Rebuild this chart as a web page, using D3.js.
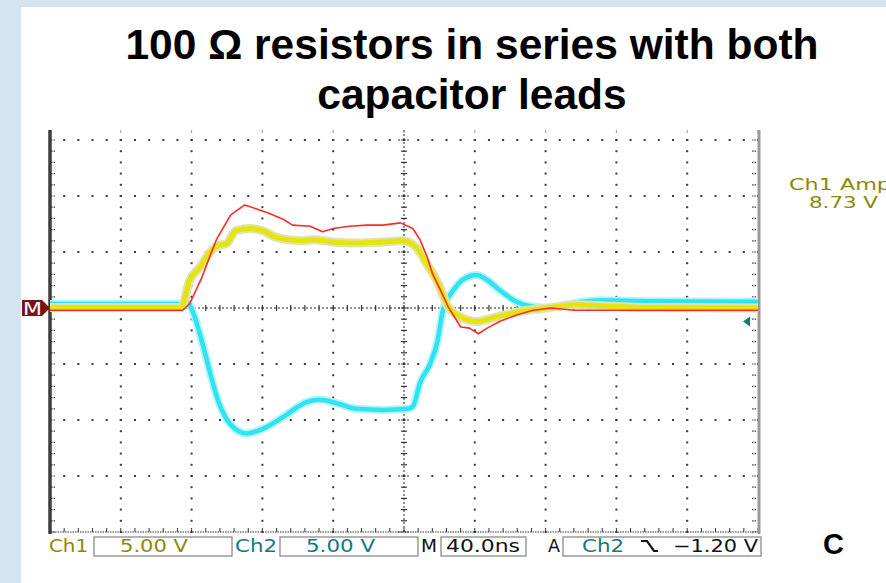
<!DOCTYPE html>
<html><head><meta charset="utf-8">
<script src="https://cdn.jsdelivr.net/npm/d3@7"></script>
<style>html,body{margin:0;padding:0;background:#d4e4f2;}svg{display:block;}</style>
</head><body>
<script>
// ---- data (time in ns, centre = 0; volts relative to screen centre) ----
const titleLines = ["100 Ω resistors in series with both", "capacitor leads"];
const ch1Time  = [-200,-126,-121,-115,-110,-106,-100,-95,-87,-80,-72,-59,-51,-40,-27,-12,-1,7,13,19,25,32,41,50,60,70,81,97,111,139,200];
const ch1Volts = [0.05,0.05,2.5,3.7,4.9,5.5,5.8,6.9,7.1,6.9,6.3,6.0,6.1,5.9,5.8,5.9,6.0,5.4,3.9,2.3,0.1,-0.8,-1.2,-0.9,-0.5,-0.2,0.0,0.3,0.2,0.05,0.0];
const redTime  = [-200,-125,-121,-114,-109,-106,-98,-90,-87,-77,-68,-63,-53,-46,-40,-31,-21,-12,-2,5,9,13,16,20,25,32,37,42,47,54,64,73,83,96,200];
const redVolts = [-0.2,-0.2,0.4,2.8,4.9,6.1,8.3,9.2,9.05,8.5,7.9,7.4,7.3,6.8,7.1,7.3,7.4,7.4,7.6,7.1,6.1,4.6,3.1,1.8,0.1,-1.7,-1.8,-2.3,-1.8,-1.2,-0.6,-0.2,0.0,-0.2,-0.2];
const ch2Time  = [-200,-125,-123,-119,-114,-108,-106,-98,-89,-80,-68,-55,-48,-38,-27,-12,2,5,9,15,19,22,28,33,41,47,54,62,70,81,98,111,139,200];
const ch2Volts = [0.35,0.35,0.6,-0.45,-3.1,-6.7,-7.8,-10.4,-11.2,-10.8,-9.7,-8.4,-8.2,-8.5,-9.0,-9.1,-9.0,-8.8,-6.7,-4.9,-2.9,-0.2,1.6,2.5,2.95,2.5,1.6,0.7,0.2,0.0,0.5,0.7,0.6,0.55];
const timeDomain = [-200, 200];   // 40 ns/div, 10 divisions
const voltDomain = [-20, 20];     // 5 V/div, 8 divisions
const ampLabel = ["Ch1 Amp", "8.73 V"];
const statusCh1 = ["Ch1", "5.00 V"];
const statusCh2 = ["Ch2", "5.00 V"];
const statusTime = ["M", "40.0ns"];
const statusTrig = ["A", "Ch2", "−1.20 V"];
const panelLetter = "C";

const W = 886, H = 583;
const svg = d3.select("body").append("svg").attr("width", W).attr("height", H);
svg.append("rect").attr("width", W).attr("height", H).attr("fill", "#d4e4f2");
svg.append("rect").attr("x", 21).attr("y", 7).attr("width", W - 21).attr("height", H - 7).attr("fill", "#ffffff");

// title
svg.selectAll("text.title").data(titleLines).join("text").attr("class", "title")
  .attr("x", 472).attr("y", (d, i) => 59 + i * 50)
  .attr("text-anchor", "middle")
  .attr("font-family", "'Liberation Sans', Arial, sans-serif").attr("font-weight", "bold")
  .attr("font-size", 42.5).attr("fill", "#000").text(d => d);

const x = d3.scaleLinear().domain(timeDomain).range([50, 758]);
const y = d3.scaleLinear().domain(voltDomain).range([532, 84]);
const topVis = 130;

const defs = svg.append("defs");
defs.append("clipPath").attr("id", "scr").append("rect")
  .attr("x", 50).attr("y", topVis).attr("width", 708).attr("height", 532 - topVis + 1);

const g = svg.append("g").attr("clip-path", "url(#scr)");
const dotCol = "#3a3a3a";

const majorT = d3.range(timeDomain[0], timeDomain[1] + 1, 40);
const majorV = d3.range(voltDomain[0], voltDomain[1] + 1, 5);
const minorT = d3.range(timeDomain[0], timeDomain[1] + 0.1, 8);
const minorV = d3.range(voltDomain[0], voltDomain[1] + 0.1, 1);

// vertical grid dots
majorT.filter(t => t !== 0 && t > timeDomain[0] && t < timeDomain[1]).forEach(t => {
  g.selectAll(null).data(minorV).join("rect")
    .attr("x", x(t) - 1).attr("y", v => y(v) - 1).attr("width", 2).attr("height", 2).attr("fill", dotCol);
});
// horizontal grid dots
majorV.filter(v => v !== 0 && v > voltDomain[0] && v < voltDomain[1]).forEach(v => {
  g.selectAll(null).data(minorT).join("rect")
    .attr("x", t => x(t) - 1).attr("y", y(v) - 1).attr("width", 2).attr("height", 2).attr("fill", dotCol);
});
// centre axes
g.append("line").attr("x1", 50).attr("x2", 758).attr("y1", y(0)).attr("y2", y(0))
  .attr("stroke", "#222").attr("stroke-width", 1).attr("stroke-dasharray", "2,2");
g.append("line").attr("x1", x(0)).attr("x2", x(0)).attr("y1", topVis).attr("y2", 532)
  .attr("stroke", "#222").attr("stroke-width", 1).attr("stroke-dasharray", "2,2");
g.selectAll(null).data(minorT).join("line")
  .attr("x1", t => x(t)).attr("x2", t => x(t)).attr("y1", y(0) - 3).attr("y2", y(0) + 3)
  .attr("stroke", "#333").attr("stroke-width", 1.2);
g.selectAll(null).data(minorV.filter(v => v % 5 !== 0)).join("line")
  .attr("x1", x(0) - 3).attr("x2", x(0) + 3).attr("y1", v => y(v)).attr("y2", v => y(v))
  .attr("stroke", "#333").attr("stroke-width", 1.2);
g.selectAll(null).data(majorV).join("line")
  .attr("x1", x(0) - 6).attr("x2", x(0) + 6).attr("y1", v => y(v)).attr("y2", v => y(v))
  .attr("stroke", "#333").attr("stroke-width", 1).attr("stroke-dasharray", "2,1");
// left border ticks
g.selectAll(null).data(minorV).join("line")
  .attr("x1", 51).attr("x2", 56).attr("y1", v => y(v)).attr("y2", v => y(v))
  .attr("stroke", "#444").attr("stroke-width", 1.2).attr("stroke-dasharray", "1.5,1");
// right border ticks
g.selectAll(null).data(minorV).join("line")
  .attr("x1", 752).attr("x2", 757).attr("y1", v => y(v)).attr("y2", v => y(v))
  .attr("stroke", "#444").attr("stroke-width", 1.2).attr("stroke-dasharray", "1.5,1");
// bottom border
g.append("line").attr("x1", 50).attr("x2", 758).attr("y1", 532).attr("y2", 532)
  .attr("stroke", "#333").attr("stroke-width", 1.2).attr("stroke-dasharray", "1.5,1");
g.selectAll(null).data(minorT).join("line")
  .attr("x1", t => x(t)).attr("x2", t => x(t)).attr("y1", 528).attr("y2", 532)
  .attr("stroke", "#333").attr("stroke-width", 1);
g.selectAll(null).data(majorT).join("line")
  .attr("x1", t => x(t)).attr("x2", t => x(t)).attr("y1", topVis).attr("y2", topVis + 3)
  .attr("stroke", "#999").attr("stroke-width", 1);

// borders
svg.append("line").attr("x1", 50).attr("x2", 50).attr("y1", topVis).attr("y2", 534)
  .attr("stroke", "#3c3c3c").attr("stroke-width", 3.5);
svg.append("line").attr("x1", 759).attr("x2", 759).attr("y1", topVis).attr("y2", 534)
  .attr("stroke", "#9a9a9a").attr("stroke-width", 3);

// traces
const line = d3.line().x(d => x(d[0])).y(d => y(d[1])).curve(d3.curveMonotoneX);
const zipS = (ts, vs) => ts.map((t, i) => [t, vs[i]]);
const tr = svg.append("g").attr("clip-path", "url(#scr)");
tr.append("path").attr("d", line(zipS(ch2Time, ch2Volts))).attr("fill", "none")
  .attr("stroke", "#b6f3f7").attr("stroke-width", 8).attr("stroke-linejoin", "round");
tr.append("path").attr("d", line(zipS(ch2Time, ch2Volts))).attr("fill", "none")
  .attr("stroke", "#2ee4f0").attr("stroke-width", 4.5).attr("stroke-linejoin", "round");
tr.append("path").attr("d", line(zipS(ch1Time, ch1Volts))).attr("fill", "none")
  .attr("stroke", "#e2e2b0").attr("stroke-width", 9).attr("stroke-linejoin", "round");
tr.append("path").attr("d", line(zipS(ch1Time, ch1Volts))).attr("fill", "none")
  .attr("stroke", "#e4e40e").attr("stroke-width", 5).attr("stroke-linejoin", "round");
tr.append("path").attr("d", d3.line().x(d => x(d[0])).y(d => y(d[1]))(zipS(redTime, redVolts))).attr("fill", "none")
  .attr("stroke", "#ff2a2a").attr("stroke-width", 1.6).attr("stroke-linejoin", "round");

// M marker
const my = y(0);
svg.append("path").attr("d", `M22,${my - 8}H42L50,${my}L42,${my + 8}H22Z`).attr("fill", "#7a1414");
svg.append("text").attr("x", 23).attr("y", my + 7).attr("textLength", 19).attr("lengthAdjust", "spacingAndGlyphs")
  .attr("font-family", "'DejaVu Sans', sans-serif").attr("font-size", 18).attr("fill", "#fff").text("M");
// trigger level arrow (right)
const ty = y(-1.2);
svg.append("path").attr("d", `M743,${ty}L750,${ty - 5}V${ty + 5}Z`).attr("fill", "#147a7a");

// Ch1 Amp
const olive = "#8a8a06", teal = "#0f7b7b", blk = "#111";
const mono = "'DejaVu Sans', Verdana, sans-serif";
svg.append("text").attr("x", 789).attr("y", 190).attr("font-family", mono).attr("font-size", 16.5)
  .attr("textLength", 102).attr("lengthAdjust", "spacingAndGlyphs").attr("fill", olive).text(ampLabel[0]);
svg.append("text").attr("x", 809).attr("y", 208).attr("font-family", mono).attr("font-size", 16.5)
  .attr("textLength", 69).attr("lengthAdjust", "spacingAndGlyphs").attr("fill", olive).text(ampLabel[1]);

// status bar
const sy = 552;
const boxes = [[94, 232], [280, 418], [441, 526], [563, 761]];
svg.selectAll(null).data(boxes).join("rect")
  .attr("x", d => d[0]).attr("y", 537).attr("width", d => d[1] - d[0]).attr("height", 19)
  .attr("fill", "none").attr("stroke", "#8c8c8c").attr("stroke-width", 1.3);
function st(txt, x0, x1, col) {
  svg.append("text").attr("x", x0).attr("y", sy).attr("font-family", mono).attr("font-size", 17.5)
    .attr("textLength", x1 - x0).attr("lengthAdjust", "spacingAndGlyphs").attr("fill", col).text(txt);
}
st(statusCh1[0], 49, 88, olive);
st(statusCh1[1], 120, 188, olive);
st(statusCh2[0], 235, 277, teal);
st(statusCh2[1], 306, 375, teal);
st(statusTime[0], 421, 437, blk);
st(statusTime[1], 446, 520, blk);
st(statusTrig[0], 548, 560, blk);
st(statusTrig[1], 582, 624, teal);
st(statusTrig[2], 673, 758, blk);
// falling-edge symbol
svg.append("path").attr("d", "M641,541H647L654,551H658").attr("fill", "none")
  .attr("stroke", blk).attr("stroke-width", 2.2);

svg.append("text").attr("x", 823).attr("y", 554).attr("font-family", "'Liberation Sans', Arial, sans-serif")
  .attr("font-weight", "bold").attr("font-size", 29).attr("fill", "#000").text(panelLetter);
</script>
</body></html>
